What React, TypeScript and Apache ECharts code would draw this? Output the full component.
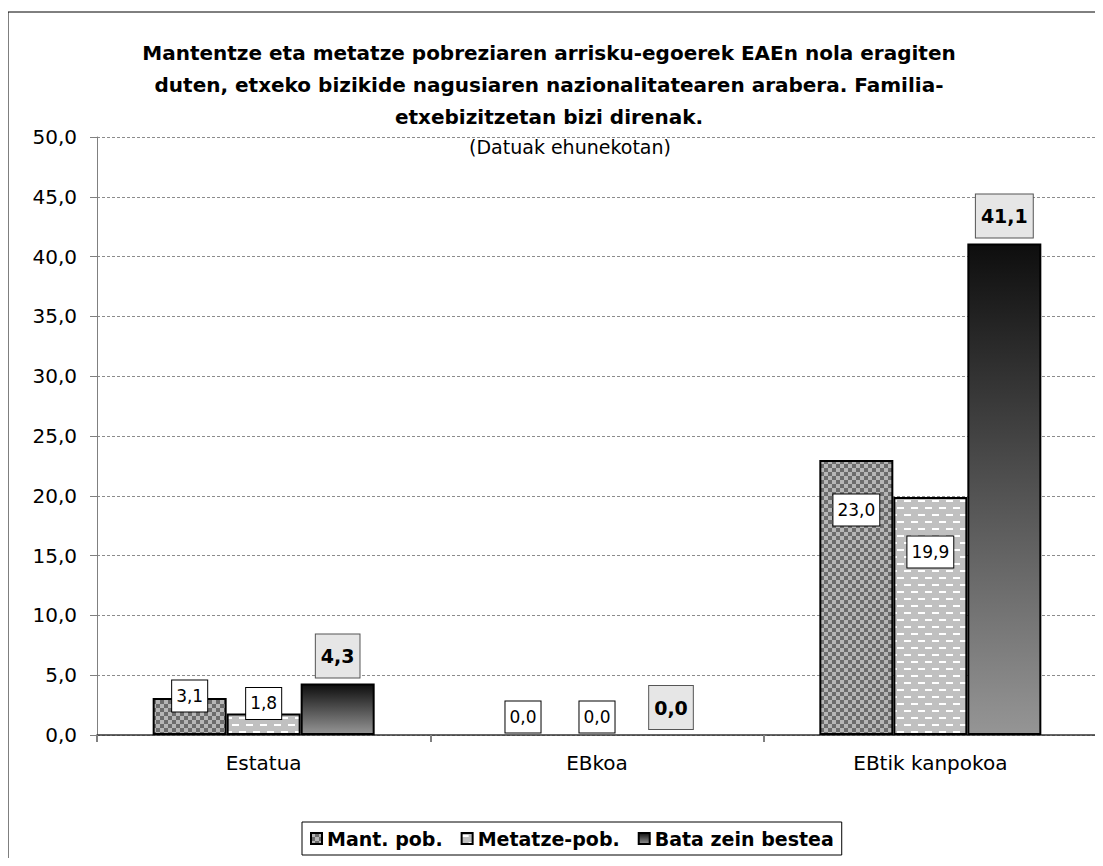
import React, { useEffect, useRef } from "react";
import * as echarts from "echarts";

const FONT = "'DejaVu Sans', sans-serif";

const titleLines = [
  "Mantentze eta metatze pobreziaren arrisku-egoerek EAEn nola eragiten",
  "duten, etxeko bizikide nagusiaren nazionalitatearen arabera. Familia-",
  "etxebizitzetan bizi direnak.",
];
const subtitle = "(Datuak ehunekotan)";

const categories = ["Estatua", "EBkoa", "EBtik kanpokoa"];
const seriesNames = ["Mant. pob.", "Metatze-pob.", "Bata zein bestea"];
const mantPob = [3.1, 0.0, 23.0];
const metatzePob = [1.8, 0.0, 19.9];
const bataZeinBestea = [4.3, 0.0, 41.1];

// vertical offset (px) of the label centre from the bar top, as placed in the original
const mantLabelDy = [-2, -18, 50];
const metatzeLabelDy = [-10, -18, 55];

const yTicks = { min: 0, max: 50, interval: 5 };

const fmt = (v: number) => v.toFixed(1).replace(".", ",");

function makeChecker() {
  const c = document.createElement("canvas");
  c.width = 8;
  c.height = 8;
  const g = c.getContext("2d")!;
  g.fillStyle = "#6c6c6c";
  g.fillRect(0, 0, 8, 8);
  g.fillStyle = "#b6b6b6";
  g.fillRect(0, 0, 4, 4);
  g.fillRect(4, 4, 4, 4);
  return c;
}

function makeDashes() {
  const c = document.createElement("canvas");
  c.width = 14;
  c.height = 14;
  const g = c.getContext("2d")!;
  g.fillStyle = "#c0c0c0";
  g.fillRect(0, 0, 14, 14);
  g.fillStyle = "#ffffff";
  g.fillRect(0, 2, 7, 2);
  g.fillRect(7, 9, 7, 2);
  return c;
}

export default function App() {
  const ref = useRef<HTMLDivElement>(null);

  useEffect(() => {
    document.documentElement.style.overflow = "hidden";
    document.body.style.overflow = "hidden";
    const el = ref.current!;
    const chart = echarts.init(el, null, { renderer: "svg" });

    const checker = makeChecker();
    const dashes = makeDashes();

    const regularLabel = {
      show: true,
      position: "top" as const,
      formatter: (p: any) => fmt(p.value),
      fontFamily: FONT,
      fontSize: 17,
      lineHeight: 17,
      color: "#000",
      backgroundColor: "#ffffff",
      borderColor: "#000",
      borderWidth: 1,
      padding: [7, 4, 7, 4],
    };

    const boldLabel = {
      show: true,
      position: "top" as const,
      distance: 6,
      formatter: (p: any) => fmt(p.value),
      fontFamily: FONT,
      fontSize: 19,
      lineHeight: 19,
      fontWeight: "bold" as const,
      color: "#000",
      backgroundColor: "#e6e6e6",
      borderColor: "#555",
      borderWidth: 1,
      padding: [12, 5, 12, 5],
    };

    const mkData = (vals: number[], dys?: number[]) =>
      vals.map((v, i) => {
        const item: any = { value: v };
        if (dys) item.label = { distance: -dys[i] - 15.5 };
        if (v === 0) item.itemStyle = { borderWidth: 0 };
        return item;
      });

    const option: any = {
      animation: false,
      backgroundColor: "#ffffff",
      textStyle: { fontFamily: FONT },
      graphic: [
        {
          type: "rect",
          z: -10,
          shape: { x: 0, y: 4, width: 1300, height: 1000 },
          style: { fill: "rgba(0,0,0,0)", stroke: "#000", lineWidth: 1 },
          silent: true,
        },
        {
          type: "text",
          x: 541,
          y: 29,
          style: {
            text: titleLines.join("\n"),
            fontFamily: FONT,
            fontSize: 20,
            fontWeight: "bold",
            lineHeight: 32,
            align: "center",
            verticalAlign: "top",
            fill: "#000",
          },
        },
        {
          type: "text",
          x: 562,
          y: 139,
          style: {
            text: subtitle,
            fontFamily: FONT,
            fontSize: 19,
            align: "center",
            verticalAlign: "middle",
            fill: "#000",
          },
        },
      ],
      legend: {
        left: 294,
        top: 814,
        data: seriesNames,
        icon: "rect",
        itemWidth: 11,
        itemHeight: 11,
        itemGap: 18,
        padding: [7, 8, 7, 8],
        borderColor: "#000",
        borderWidth: 1,
        textStyle: {
          fontFamily: FONT,
          fontSize: 19,
          fontWeight: "bold",
          color: "#000",
        },
      },
      grid: { left: 89, right: 6, top: 129, bottom: 123, containLabel: false },
      xAxis: {
        type: "category",
        data: categories,
        axisLine: { show: true, lineStyle: { color: "#333", width: 1.5 } },
        axisTick: { show: true, length: 7, lineStyle: { color: "#808080", width: 2 } },
        axisLabel: { fontFamily: FONT, fontSize: 20, color: "#000", margin: 18 },
        splitLine: { show: false },
      },
      yAxis: [
        {
          type: "value",
          min: yTicks.min,
          max: yTicks.max,
          interval: yTicks.interval,
          axisLine: { show: true, lineStyle: { color: "#808080", width: 1 } },
          axisTick: { show: true, length: 7, lineStyle: { color: "#808080" } },
          axisLabel: {
            fontFamily: FONT,
            fontSize: 20,
            color: "#000",
            margin: 20,
            formatter: (v: number) => fmt(v),
          },
          splitLine: { show: true, lineStyle: { color: "#8c8c8c", type: [3, 2], width: 1 } },
        },
        {
          type: "value",
          position: "right",
          min: yTicks.min,
          max: yTicks.max,
          interval: yTicks.interval,
          axisLine: { show: true, lineStyle: { color: "#8c8c8c", type: [3, 2], width: 1 } },
          axisTick: { show: false },
          axisLabel: { show: false },
          splitLine: { show: false },
        },
      ],
      series: [
        {
          name: seriesNames[0],
          type: "bar",
          yAxisIndex: 0,
          barWidth: 74,
          barGap: "0%",
          data: mkData(mantPob, mantLabelDy),
          itemStyle: {
            color: { image: checker, repeat: "repeat" },
            borderColor: "#000",
            borderWidth: 2,
          },
          label: regularLabel,
        },
        {
          name: seriesNames[1],
          type: "bar",
          yAxisIndex: 0,
          barWidth: 74,
          barGap: "0%",
          data: mkData(metatzePob, metatzeLabelDy),
          itemStyle: {
            color: { image: dashes, repeat: "repeat" },
            borderColor: "#000",
            borderWidth: 2,
          },
          label: regularLabel,
        },
        {
          name: seriesNames[2],
          type: "bar",
          yAxisIndex: 0,
          barWidth: 74,
          barGap: "0%",
          data: mkData(bataZeinBestea),
          itemStyle: {
            color: new echarts.graphic.LinearGradient(0, 0, 0, 1, [
              { offset: 0, color: "#0e0e0e" },
              { offset: 1, color: "#959595" },
            ]),
            borderColor: "#000",
            borderWidth: 2,
          },
          label: boldLabel,
        },
      ],
    };

    chart.setOption(option);
    return () => {
      chart.dispose();
    };
  }, []);

  return <div ref={ref} style={{ width: 1095, height: 850 }} />;
}
